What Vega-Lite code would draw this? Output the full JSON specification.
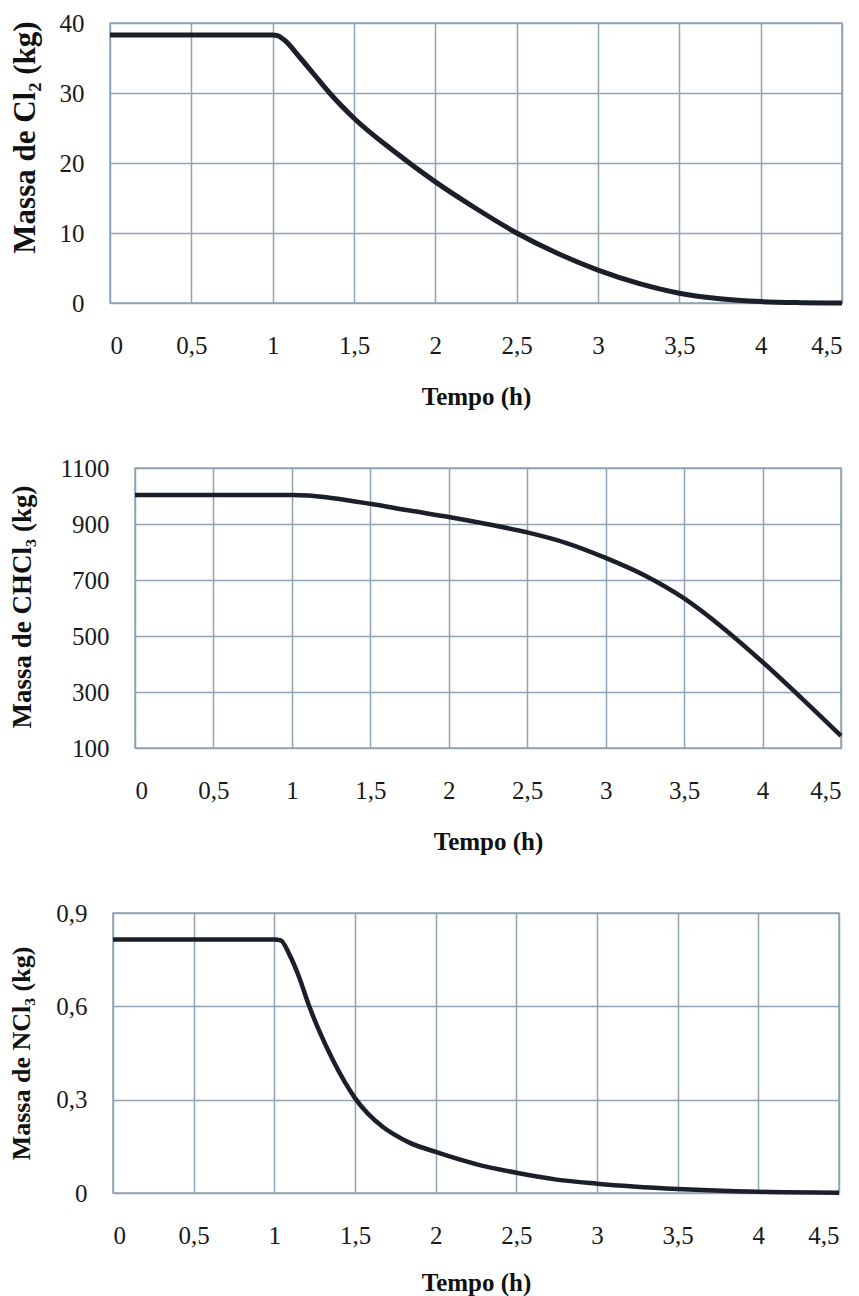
{
  "$schema": "https://vega.github.io/schema/vega-lite/v6.json",
  "padding": {"left": 7, "top": 10, "right": 5, "bottom": 0},
  "background": "white",
  "spacing": 45,
  "datasets": {
    "cl2": [
      {"t": 0, "m": 38.3}, {"t": 0.5, "m": 38.3}, {"t": 1.0, "m": 38.3}, {"t": 1.03, "m": 38.2},
      {"t": 1.07, "m": 37.6}, {"t": 1.17, "m": 35.0}, {"t": 1.26, "m": 32.5}, {"t": 1.35, "m": 30.0},
      {"t": 1.5, "m": 26.4}, {"t": 1.75, "m": 21.6}, {"t": 2.0, "m": 17.3}, {"t": 2.25, "m": 13.5},
      {"t": 2.5, "m": 10.0}, {"t": 2.75, "m": 7.1}, {"t": 3.0, "m": 4.7}, {"t": 3.25, "m": 2.8},
      {"t": 3.5, "m": 1.4}, {"t": 3.75, "m": 0.6}, {"t": 4.0, "m": 0.2}, {"t": 4.25, "m": 0.05},
      {"t": 4.5, "m": 0.0}
    ],
    "chcl3": [
      {"t": 0, "m": 1004}, {"t": 0.5, "m": 1004}, {"t": 1.0, "m": 1004}, {"t": 1.1, "m": 1002},
      {"t": 1.25, "m": 993}, {"t": 1.5, "m": 972}, {"t": 1.75, "m": 948}, {"t": 2.0, "m": 925},
      {"t": 2.25, "m": 899}, {"t": 2.5, "m": 870}, {"t": 2.75, "m": 832}, {"t": 3.0, "m": 779},
      {"t": 3.25, "m": 716}, {"t": 3.5, "m": 634}, {"t": 3.75, "m": 528}, {"t": 4.0, "m": 407},
      {"t": 4.25, "m": 277}, {"t": 4.5, "m": 143}
    ],
    "ncl3": [
      {"t": 0, "m": 0.815}, {"t": 0.5, "m": 0.815}, {"t": 1.0, "m": 0.815}, {"t": 1.04, "m": 0.812},
      {"t": 1.093, "m": 0.767}, {"t": 1.155, "m": 0.692}, {"t": 1.213, "m": 0.605}, {"t": 1.279, "m": 0.52},
      {"t": 1.362, "m": 0.428}, {"t": 1.5, "m": 0.305}, {"t": 1.671, "m": 0.213}, {"t": 1.75, "m": 0.186},
      {"t": 1.837, "m": 0.162}, {"t": 2.0, "m": 0.132}, {"t": 2.25, "m": 0.093}, {"t": 2.5, "m": 0.065},
      {"t": 2.75, "m": 0.043}, {"t": 3.0, "m": 0.03}, {"t": 3.5, "m": 0.013}, {"t": 4.0, "m": 0.004},
      {"t": 4.5, "m": 0.001}
    ],
    "blank": []
  },
  "vconcat": [
    {"spacing": 0, "hconcat": [
      {"width": 1, "height": 280, "data": {"name": "blank"}, "mark": {"type": "point", "opacity": 0}, "view": {"stroke": null}},
      {
        "width": 732, "height": 280,
        "data": {"name": "cl2"},
        "mark": {"type": "line", "color": "#1b1f2a", "strokeWidth": 5, "interpolate": "monotone"},
        "encoding": {
          "x": {"field": "t", "type": "quantitative", "scale": {"domain": [0, 4.5], "nice": false},
                "axis": {"values": [0, 0.5, 1, 1.5, 2, 2.5, 3, 3.5, 4, 4.5], "title": "Tempo (h)"}},
          "y": {"field": "m", "type": "quantitative", "scale": {"domain": [0, 40], "nice": false},
                "axis": {"values": [0, 10, 20, 30, 40], "title": "Massa de Cl₂ (kg)", "titleFontSize": 31, "titlePadding": 18, "titleY": 114}}
        }
      }
    ]},
    {"spacing": 0, "hconcat": [
      {"width": 1, "height": 280, "data": {"name": "blank"}, "mark": {"type": "point", "opacity": 0}, "view": {"stroke": null}},
      {
        "width": 706, "height": 280,
        "data": {"name": "chcl3"},
        "mark": {"type": "line", "color": "#1b1f2a", "strokeWidth": 4.5, "interpolate": "monotone"},
        "encoding": {
          "x": {"field": "t", "type": "quantitative", "scale": {"domain": [0, 4.5], "nice": false},
                "axis": {"values": [0, 0.5, 1, 1.5, 2, 2.5, 3, 3.5, 4, 4.5], "title": "Tempo (h)"}},
          "y": {"field": "m", "type": "quantitative", "scale": {"domain": [100, 1100], "nice": false},
                "axis": {"values": [100, 300, 500, 700, 900, 1100], "title": "Massa de CHCl₃ (kg)", "titleFontSize": 27, "titlePadding": 23, "titleY": 138.5}}
        }
      }
    ]},
    {"spacing": 0, "hconcat": [
      {"width": 1, "height": 280, "data": {"name": "blank"}, "mark": {"type": "point", "opacity": 0}, "view": {"stroke": null}},
      {
        "width": 726, "height": 280,
        "data": {"name": "ncl3"},
        "mark": {"type": "line", "color": "#1b1f2a", "strokeWidth": 4.5, "interpolate": "monotone"},
        "encoding": {
          "x": {"field": "t", "type": "quantitative", "scale": {"domain": [0, 4.5], "nice": false},
                "axis": {"values": [0, 0.5, 1, 1.5, 2, 2.5, 3, 3.5, 4, 4.5], "title": "Tempo (h)", "titlePadding": 22}},
          "y": {"field": "m", "type": "quantitative", "scale": {"domain": [0, 0.9], "nice": false},
                "axis": {"values": [0, 0.3, 0.6, 0.9], "title": "Massa de NCl₃ (kg)", "titleFontSize": 26, "titlePadding": 21}}
        }
      }
    ]}
  ],
  "config": {
    "view": {"stroke": "#8ea4b4", "strokeWidth": 1.5},
    "axis": {
      "grid": true, "gridColor": "#8ea4b4", "gridWidth": 1.5, "gridOpacity": 1,
      "ticks": false, "domain": false,
      "labelFont": "Liberation Serif", "labelFontSize": 25, "labelColor": "#1a1a1a",
      "labelExpr": "replace(format(datum.value, '~g'), '.', ',')",
      "titleFont": "Liberation Serif", "titleFontWeight": "bold", "titleColor": "#111111"
    },
    "axisX": {"labelPadding": 30, "titlePadding": 26, "titleFontSize": 25},
    "axisY": {"labelPadding": 26}
  }
}
